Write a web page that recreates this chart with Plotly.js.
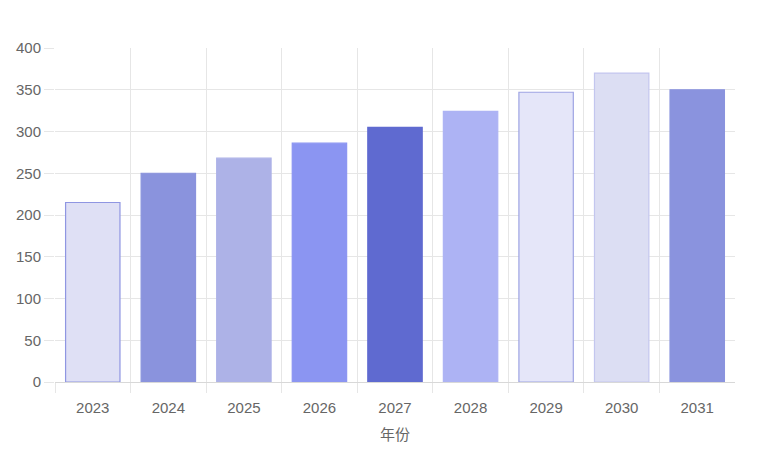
<!DOCTYPE html>
<html>
<head>
<meta charset="utf-8">
<script src="https://cdn.plot.ly/plotly-3.0.1.min.js"></script>
<style>html,body{margin:0;padding:0;background:#fff;}#chart{width:770px;height:459px;}</style>
</head>
<body>
<div id="chart"></div>
<script>
const years = ["2023","2024","2025","2026","2027","2028","2029","2030","2031"];
const values = [215, 250, 268, 286, 305, 324, 347, 370, 350];
const fillColors = ["#dfe0f5","#8a93dd","#adb2e7","#8b95f2","#5f6ad0","#adb3f4","#e5e6f9","#dcdef3","#8a93de"];
const lineColors = ["#8f96e2","#8a93dd","#adb2e7","#8b95f2","#5f6ad0","#adb3f4","#9ea3e3","#c3c6ef","#8a93de"];
const yTicks = [0,50,100,150,200,250,300,350,400];
const xTitle = "年份";

const boundaries = years.map((_, i) => i - 0.5);

const trace = {
  type: "bar",
  x: years,
  y: values,
  marker: {color: fillColors, line: {color: lineColors, width: 1.2}},
  hoverinfo: "x+y"
};
const gridHelper = {type: "scatter", x: [], y: [], xaxis: "x2", yaxis: "y", hoverinfo: "skip", showlegend: false};

const layout = {
  width: 770, height: 459,
  margin: {l: 55, r: 35, t: 48, b: 77},
  paper_bgcolor: "#ffffff", plot_bgcolor: "#ffffff",
  bargap: 0.28,
  showlegend: false,
  font: {family: "Liberation Sans, Arial, sans-serif", color: "#666666", size: 15},
  xaxis: {
    type: "category",
    range: [-0.5, years.length - 0.5],
    showgrid: false,
    ticks: "", showline: false, zeroline: false,
    ticklabelstandoff: 15,
    tickfont: {size: 15, color: "#666666"},
    title: {text: xTitle, font: {family: "Noto Sans CJK SC, sans-serif", size: 15, color: "#666666"}, standoff: 14}
  },
  xaxis2: {
    overlaying: "x", anchor: "y", side: "bottom",
    range: [-0.5, years.length - 0.5],
    tickvals: boundaries, showticklabels: false,
    showgrid: true, gridcolor: "#e6e6e6", gridwidth: 1,
    ticks: "outside", ticklen: 10, tickcolor: "#e6e6e6",
    showline: false, zeroline: false
  },
  yaxis: {
    range: [0, 400],
    tickvals: yTicks,
    ticktext: yTicks.map(String),
    showgrid: true, gridcolor: "#e6e6e6", gridwidth: 1,
    ticks: "outside", ticklen: 10, tickcolor: "#e6e6e6",
    zeroline: true, zerolinecolor: "#d8d8d8", zerolinewidth: 1,
    showline: false,
    tickfont: {size: 15, color: "#666666"}
  }
};

Plotly.newPlot("chart", [trace, gridHelper], layout, {displayModeBar: false, staticPlot: true});
</script>
</body>
</html>
